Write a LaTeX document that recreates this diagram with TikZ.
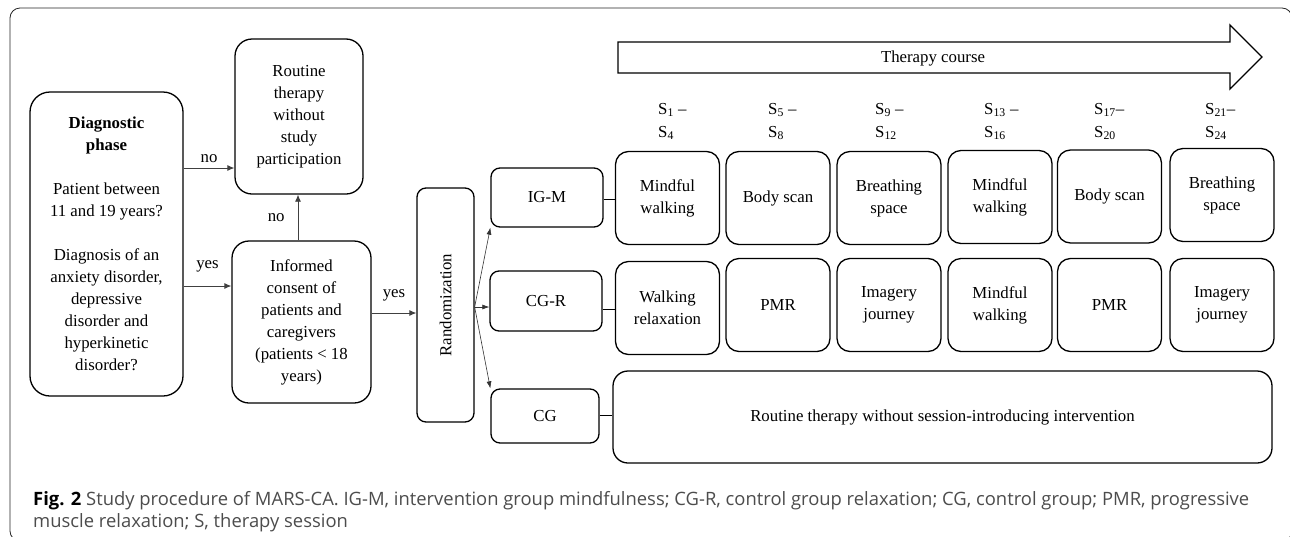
\documentclass[tikz,border=0pt]{standalone}
\usepackage{fontspec}
\setmainfont{Liberation Serif}
\newfontfamily\capfont{Open Sans}
\usetikzlibrary{arrows.meta}
\newcommand\fs{\fontsize{16.8pt}{22pt}\selectfont}
\newcommand\sfs{\fontsize{16.8pt}{23pt}\selectfont}
\begin{document}
\begin{tikzpicture}[x=1pt,y=-1pt,
  box/.style={draw, line width=1.3pt, rounded corners=15pt, align=center, inner sep=0pt, font=\fs},
  sbox/.style={box, rounded corners=9pt},
  sess/.style={box, rounded corners=13pt, minimum width=104pt},
  arr/.style={draw=black!75, line width=0.8pt, -{Latex[length=7pt,width=6pt]}},
  fanarr/.style={draw=black!80, line width=0.6pt, -{Latex[length=7pt,width=5pt]}},
  link/.style={draw, line width=0.9pt},
  lbl/.style={font=\fs, inner sep=0pt},
  slbl/.style={font=\sfs, inner sep=0pt, align=left, anchor=west},
  captext/.style={font=\capfont\fontsize{18.4pt}{20pt}\selectfont, text=black!70, inner sep=0pt, anchor=base west}]
\useasboundingbox (0,0) rectangle (1290,536);
% outer frame
\draw[line width=0.8pt, black!85, rounded corners=10pt] (10,8) rectangle (1292,541);

% left part
\node[box, rounded corners=20pt, minimum width=153pt, minimum height=304pt] (diag) at (106.5,244)
  {\textbf{Diagnostic}\\\textbf{phase}\\[22pt]Patient between\\11 and 19 years?\\[22pt]Diagnosis of an\\anxiety disorder,\\depressive\\disorder and\\hyperkinetic\\disorder?};
\node[box, rounded corners=17pt, minimum width=128pt, minimum height=155pt] (routine) at (299,116.5)
  {Routine\\therapy\\without\\study\\participation};
\node[box, rounded corners=17pt, minimum width=139pt, minimum height=162pt] (consent) at (301.5,322)
  {Informed\\consent of\\patients and\\caregivers\\(patients < 18\\years)};
\node[sbox, minimum width=57pt, minimum height=234pt] (rand) at (445.5,305) {};
\node[lbl, rotate=90] (randtxt) at (rand.center) {Randomization};

\draw[arr] (diag.east |- 0,168) -- node[lbl, above=5pt] {no} (routine.west |- 0,168);
\draw[arr] (diag.east |- 0,286) -- node[lbl, above=13pt] {yes} (consent.west |- 0,286);
\draw[arr] (consent.north -| 298,0) -- node[lbl, left=13pt] {no} (routine.south -| 298,0);
\draw[arr] (consent.east |- 0,313) -- node[lbl, above=11pt] {yes} (rand.west |- 0,313);

% groups
\node[sbox, minimum width=112pt, minimum height=59pt] (igm) at (547,197.5) {IG-M};
\node[sbox, minimum width=112pt, minimum height=60pt] (cgr) at (546,301) {CG-R};
\node[sbox, minimum width=108pt, minimum height=54pt] (cg) at (545,416) {CG};

\coordinate (fan) at (rand.east |- 0,307);
\draw[fanarr] (fan) -- (igm.south west);
\draw[fanarr] (fan) -- (cgr.west |- fan);
\draw[fanarr] (fan) -- (cg.north west);

% therapy course arrow
\draw[line width=1.3pt] (618,42) -- (1230,42) -- (1230,25) -- (1262,57) -- (1230,89) -- (1230,73) -- (618,73) -- cycle;
\node[lbl] (course) at (933,58) {Therapy course};

% session labels
\node[slbl] (l1) at (658,121.5) {S\textsubscript{1} –\\S\textsubscript{4}};
\node[slbl] (l2) at (768,121.5) {S\textsubscript{5} –\\S\textsubscript{8}};
\node[slbl] (l3) at (875,121.5) {S\textsubscript{9} –\\S\textsubscript{12}};
\node[slbl] (l4) at (984,121.5) {S\textsubscript{13} –\\S\textsubscript{16}};
\node[slbl] (l5) at (1094,121.5) {S\textsubscript{17}–\\S\textsubscript{20}};
\node[slbl] (l6) at (1205,121.5) {S\textsubscript{21}–\\S\textsubscript{24}};

% session row 1
\node[sess, minimum height=93pt] (a1) at (667.5,198) {Mindful\\walking};
\node[sess, minimum height=93pt] (a2) at (778,198) {Body scan};
\node[sess, minimum height=93pt] (a3) at (889,198) {Breathing\\space};
\node[sess, minimum height=93pt] (a4) at (1000,197) {Mindful\\walking};
\node[sess, minimum height=93pt] (a5) at (1109.5,196.5) {Body scan};
\node[sess, minimum height=93pt] (a6) at (1222,195) {Breathing\\space};
% session row 2
\node[sess, minimum height=93pt] (b1) at (667.5,308) {Walking\\relaxation};
\node[sess, minimum height=93pt] (b2) at (778,305) {PMR};
\node[sess, minimum height=93pt] (b3) at (889,305) {Imagery\\journey};
\node[sess, minimum height=93pt] (b4) at (1000,305) {Mindful\\walking};
\node[sess, minimum height=93pt] (b5) at (1109.5,305) {PMR};
\node[sess, minimum height=93pt] (b6) at (1222,305) {Imagery\\journey};
% long box
\node[box, minimum width=659pt, minimum height=92pt] (long) at (942.5,417) {Routine therapy without session-introducing intervention};

\draw[link] (igm.east |- 0,199) -- (a1.west |- 0,199);
\draw[link] (cgr.east |- 0,309) -- (b1.west |- 0,309);
\draw[link] (cg.east |- 0,415) -- (long.west |- 0,415);

% caption
\node[captext] (cap1) at (33,505) {\textbf{\color{black}Fig. 2} Study procedure of MARS-CA. IG-M, intervention group mindfulness; CG-R, control group relaxation; CG, control group; PMR, progressive};
\node[captext] (cap2) at (33,527) {muscle relaxation; S, therapy session};
\end{tikzpicture}
\end{document}
